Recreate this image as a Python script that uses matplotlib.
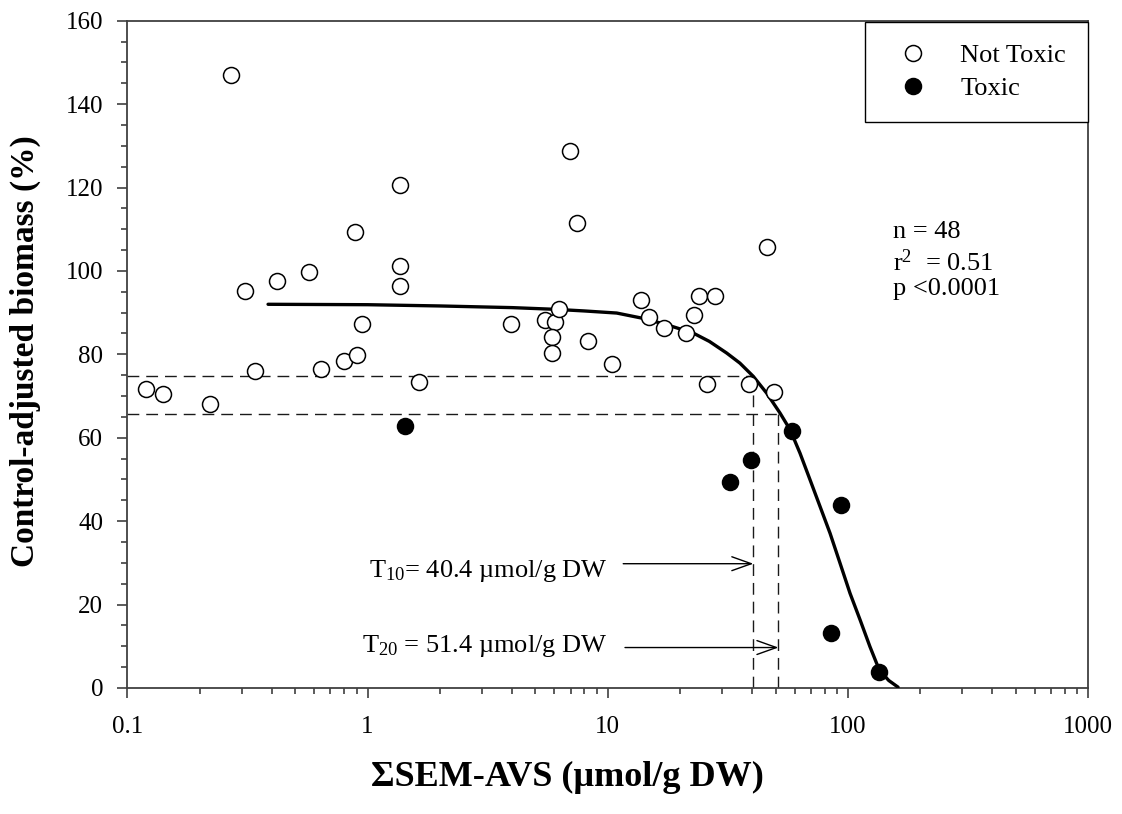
import matplotlib.pyplot as plt
from matplotlib.ticker import FixedLocator, FixedFormatter, LogLocator, MultipleLocator, NullFormatter

# samples
NOT_TOXIC_X = [0.27, 1.36, 0.89, 0.57, 1.36, 1.37, 0.42, 0.31,
               0.12, 0.14, 0.22, 0.34, 0.64, 0.80, 0.90, 0.95, 1.64, 3.94,
               6.96, 7.45, 46.2, 5.48, 6.03, 6.27, 5.85, 5.85, 8.26, 13.7,
               14.9, 17.2, 21.2, 22.9, 24.0, 28.0, 10.45, 25.8, 38.7, 49.4]
NOT_TOXIC_Y = [147.0, 120.5, 109.3, 99.8, 101.2, 96.4, 97.6, 95.1,
               71.8, 70.6, 68.2, 76.1, 76.4, 78.4, 79.8, 87.3, 73.4, 87.3,
               128.8, 111.6, 105.8, 88.2, 87.8, 90.9, 84.1, 80.4, 83.2, 93.1,
               88.9, 86.2, 85.1, 89.5, 94.1, 94.0, 77.8, 73.0, 72.9, 70.9]
TOXIC_X = [1.43, 58.3, 39.5, 32.3, 93.4, 85.1, 135.3]
TOXIC_Y = [62.8, 61.6, 54.7, 49.5, 43.9, 13.1, 3.8]

# fitted curve, traced point by point
FIT_X = [0.385, 1.0, 2.0, 4.0, 6.0, 8.0, 10.9, 14.1, 17.6, 22.7, 26.5, 31.3,
         35.5, 40.4, 45.9, 52.2, 57.5, 63.2, 69.6, 76.6, 84.3, 92.8, 102.1,
         112.5, 123.6, 135.2, 148.0, 161.8]
FIT_Y = [92.0, 91.9, 91.6, 91.2, 90.8, 90.4, 89.9, 88.6, 87.1, 85.1, 83.1, 80.3,
         77.9, 74.7, 70.7, 65.9, 61.9, 56.3, 49.9, 43.5, 37.1, 29.9, 22.7,
         16.3, 9.9, 4.3, 1.8, 0.2]

T10, T10_LEVEL = 40.4, 74.8
T20, T20_LEVEL = 51.4, 65.7

X_TICKS = [0.1, 1, 10, 100, 1000]
X_TICK_LABELS = ["0.1", "1", "10", "100", "1000"]

plt.rcParams.update({
    "font.family": ["Liberation Serif", "DejaVu Serif"],
    "mathtext.fontset": "custom",
    "mathtext.rm": "Liberation Serif",
    "mathtext.it": "Liberation Serif:italic",
    "font.size": 19,
    "lines.scale_dashes": False,
})

AX_COLOR = "#404040"

fig = plt.figure(figsize=(11.22, 8.14), dpi=100)
ax = fig.add_axes([0.1136, 0.1548, 0.8561, 0.8198])

ax.set_xscale("log")
ax.set_xlim(0.1, 1000)
ax.set_ylim(0, 160)

# guide lines for T10 / T20
dash = dict(color="#1a1a1a", linewidth=1.0, dashes=(8.5, 5))
ax.plot([0.1, T10], [T10_LEVEL, T10_LEVEL], **dash)
ax.plot([T10, T10], [0, T10_LEVEL], **dash)
ax.plot([0.1, T20], [T20_LEVEL, T20_LEVEL], **dash)
ax.plot([T20, T20], [0, T20_LEVEL], **dash)

ax.plot(FIT_X, FIT_Y, color="black", linewidth=2.4, solid_capstyle="round",
        solid_joinstyle="round", zorder=3)

ax.plot(NOT_TOXIC_X, NOT_TOXIC_Y, linestyle="none", marker="o", markersize=11.5,
        markerfacecolor="white", markeredgecolor="black", markeredgewidth=1.1,
        label="Not Toxic", zorder=4)
ax.plot(TOXIC_X, TOXIC_Y, linestyle="none", marker="o", markersize=11.5,
        markerfacecolor="black", markeredgecolor="black", markeredgewidth=1.1,
        label="Toxic", zorder=4)

arrow = dict(arrowstyle="->,head_length=0.7,head_width=0.25", color="black",
             lw=1.0, mutation_scale=20, shrinkA=0, shrinkB=0)
ax.annotate("", xy=(T10, 29.8), xytext=(11.6, 29.8), arrowprops=arrow)
ax.annotate("", xy=(T20, 9.7), xytext=(11.8, 9.7), arrowprops=arrow)
ax.text(10.0, 28.0, "T$_{10}$= 40.4 \u00b5mol/g DW", ha="right", va="center")
ax.text(10.0, 10.1, "T$_{20}$ = 51.4 \u00b5mol/g DW", ha="right", va="center")

ax.text(0.797, 0.683, "n = 48", transform=ax.transAxes, va="center")
ax.text(0.797, 0.638, "r$^2$  = 0.51", transform=ax.transAxes, va="center")
ax.text(0.797, 0.598, "p <0.0001", transform=ax.transAxes, va="center")

ax.xaxis.set_major_locator(FixedLocator(X_TICKS))
ax.xaxis.set_major_formatter(FixedFormatter(X_TICK_LABELS))
ax.xaxis.set_minor_locator(LogLocator(base=10, subs=range(2, 10)))
ax.xaxis.set_minor_formatter(NullFormatter())
ax.yaxis.set_major_locator(MultipleLocator(20))
ax.yaxis.set_minor_locator(MultipleLocator(5))

ax.tick_params(axis="both", which="both", direction="out", color=AX_COLOR, width=1.2,
               top=False, right=False, labelsize=18)
ax.tick_params(axis="both", which="major", length=7.5)
ax.tick_params(axis="both", which="minor", length=4.5)
ax.tick_params(axis="x", which="major", pad=13)
ax.tick_params(axis="y", which="major", pad=10)
for spine in ax.spines.values():
    spine.set_color(AX_COLOR)
    spine.set_linewidth(1.3)

ax.set_xlabel("\u03a3SEM-AVS (\u00b5mol/g DW)", fontsize=26, fontweight="bold", labelpad=16)
ax.xaxis.label.set_x(0.458)
ax.set_ylabel("Control-adjusted biomass (%)", fontsize=24, fontweight="bold", labelpad=18)
ax.yaxis.label.set_y(0.505)

leg = ax.legend(loc="upper right", bbox_to_anchor=(1.0, 0.998), borderaxespad=0,
                frameon=True, fancybox=False, framealpha=1, edgecolor="black",
                borderpad=0.83, handlelength=1.97, handletextpad=0.8, labelspacing=0.34,
                fontsize=19)
leg.get_frame().set_linewidth(1.0)

fig.savefig("out.png", dpi=100)
